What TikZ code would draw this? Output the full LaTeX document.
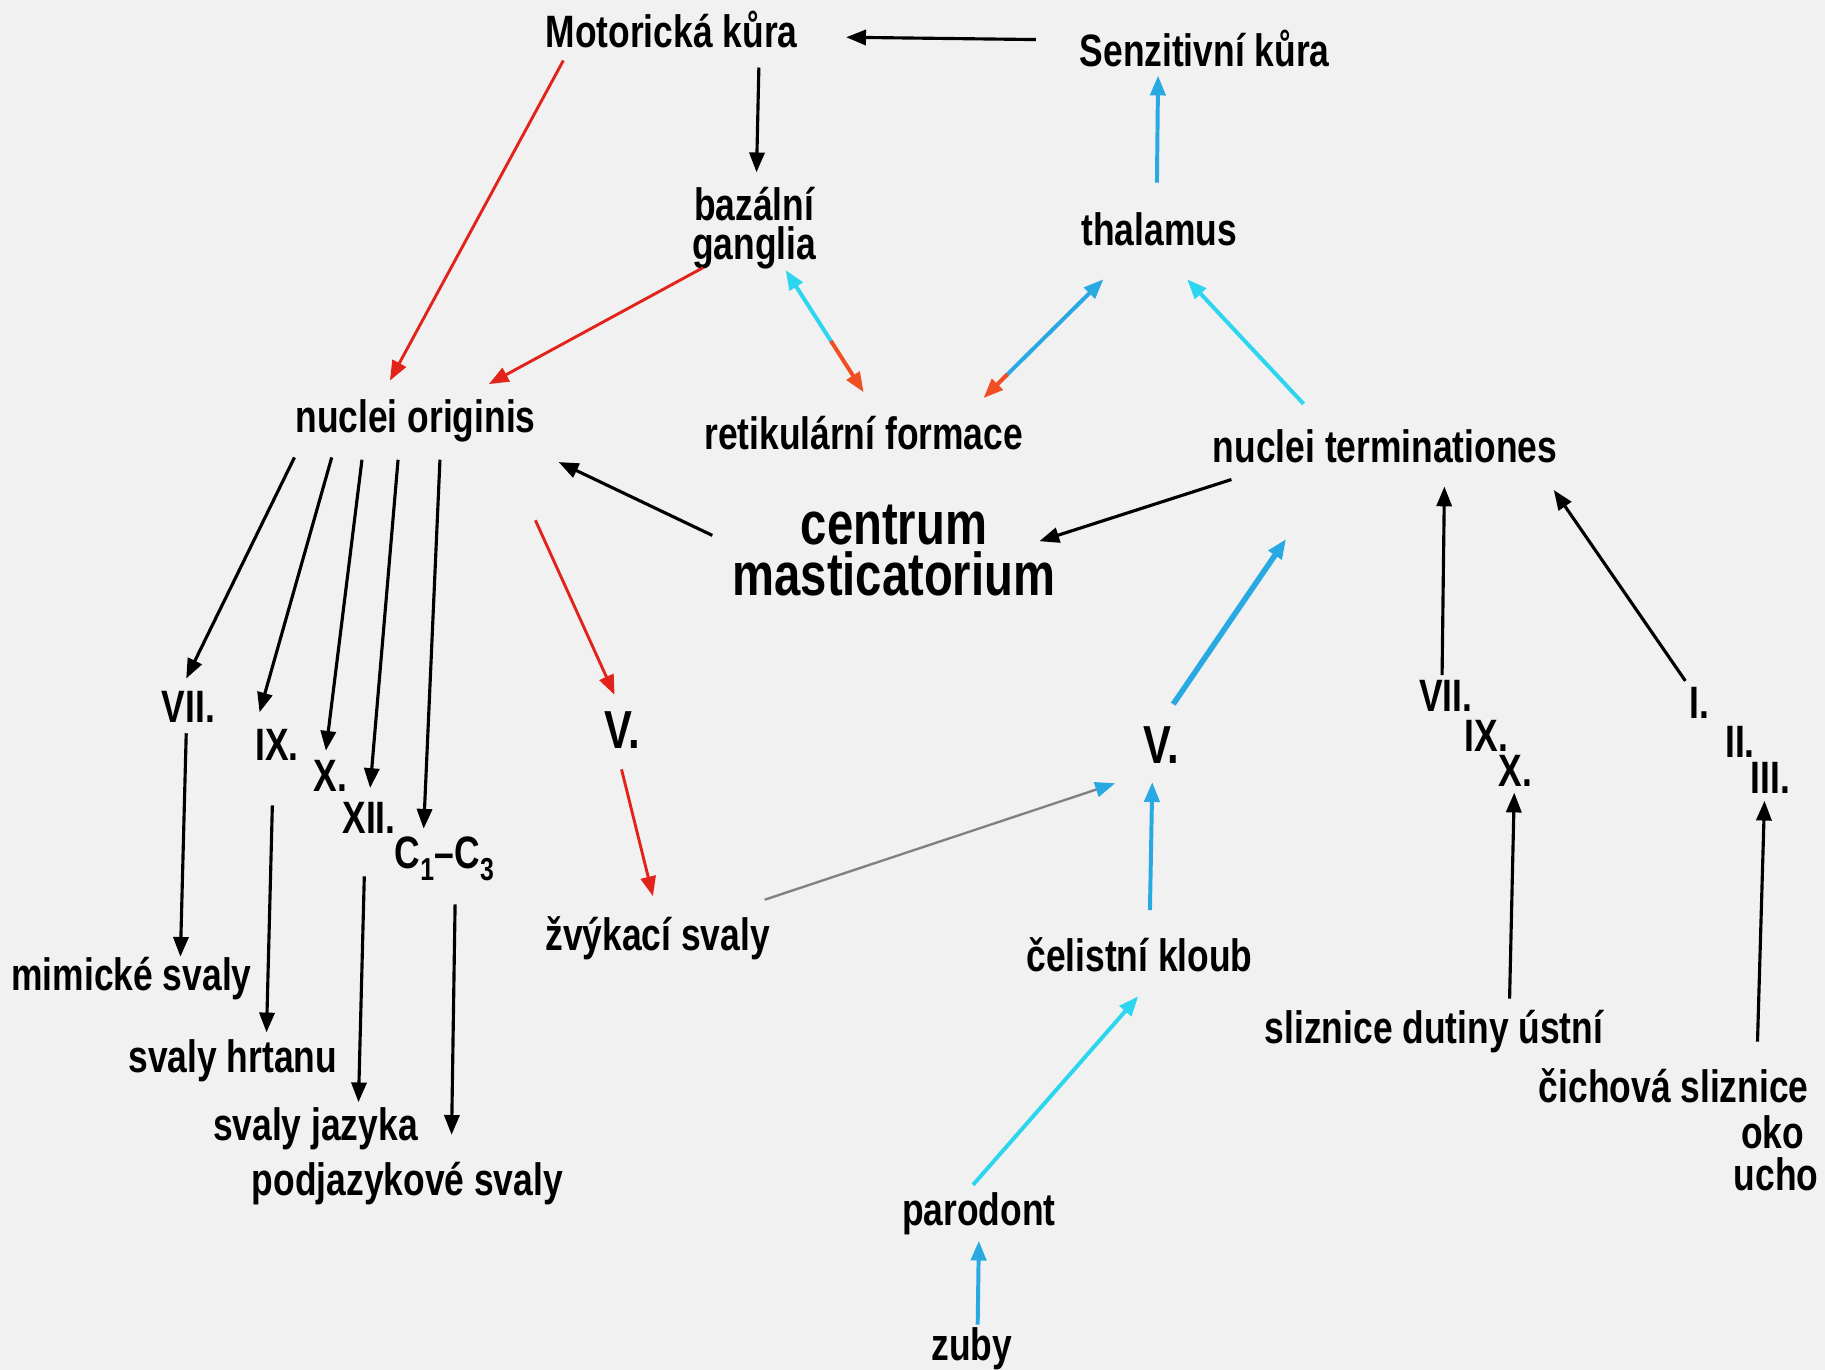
\documentclass[tikz,border=0pt]{standalone}
\usepackage{fontspec}
\newfontfamily\lbl[FakeStretch=0.78]{Liberation Sans}
\usetikzlibrary{arrows.meta, calc}
\definecolor{redln}{HTML}{E2231A}
\definecolor{blueln}{HTML}{29A9E1}
\definecolor{cyanln}{HTML}{2BD6EE}
\definecolor{orangetip}{HTML}{F04E23}
\definecolor{paper}{HTML}{F1F1F1}

\begin{document}
\begin{tikzpicture}[x=1pt,y=-1pt,
    txt/.style={inner sep=0pt,align=center,font=\lbl\bfseries\fontsize{39}{34}\selectfont},
    big/.style={txt,font=\lbl\bfseries\fontsize{52}{44}\selectfont},
    num/.style={txt,font=\lbl\bfseries\fontsize{46}{46}\selectfont},
    tip/.style={-{Triangle[length=17pt,width=13pt]}},
    blk/.style={tip,line width=2.7pt,black},
    rd/.style={tip,line width=2.5pt,redln},
    bl/.style={tip,line width=3.4pt,blueln},
    cy/.style={tip,line width=3.4pt,cyanln}]
    \fill[paper] (0,0) rectangle (1568,1177);
    \useasboundingbox (0,0) rectangle (1568,1177);
    % motor side
    \node[txt] (mk) at (577,25) {Motorická kůra};
    \node[txt] (bg) at (648,196) {bazální\\ganglia};
    \node[txt] (no) at (357,362) {nuclei originis};
    \node[txt] (rf) at (742,372) {retikulární formace};
    \node[big] (cm) at (768,473) {centrum\\masticatorium};
    \node[txt] (vii) at (162,607) {VII.};
    \node[txt] (ix) at (238,640) {IX.};
    \node[txt] (xl) at (284,667) {X.};
    \node[txt] (xii) at (317,703) {XII.};
    \node[txt] (c13) at (382,738) {C\textsubscript{1}–C\textsubscript{3}};
    \node[num] (vm) at (535,627) {V.};
    \node[txt] (ms) at (113,841) {mimické svaly};
    \node[txt] (sh) at (200,911) {svaly hrtanu};
    \node[txt] (sj) at (271,970) {svaly jazyka};
    \node[txt] (ps) at (350,1017) {podjazykové svaly};
    \node[txt] (zs) at (565,806) {žvýkací svaly};
    % sensory side
    \node[txt] (sk) at (1035,42) {Senzitivní kůra};
    \node[txt] (th) at (996,197) {thalamus};
    \node[txt] (nt) at (1190,383) {nuclei terminationes};
    \node[num] (vs) at (998,640) {V.};
    \node[txt] (ck) at (979,820) {čelistní kloub};
    \node[txt] (pd) at (841,1043) {parodont};
    \node[txt] (zb) at (835,1159) {zuby};
    \node[txt] (viir) at (1242,598) {VII.};
    \node[txt] (ixr) at (1277,632) {IX.};
    \node[txt] (xr) at (1302,662) {X.};
    \node[txt] (ir) at (1460,604) {I.};
    \node[txt] (iir) at (1495,637) {II.};
    \node[txt] (iiir) at (1521,668) {III.};
    \node[txt] (sdu) at (1232,886) {sliznice dutiny ústní};
    \node[txt] (cs) at (1438,933) {čichová sliznice};
    \node[txt] (oko) at (1523,973) {oko};
    \node[txt] (ucho) at (1526,1009) {ucho};

    \draw[blk] ([shift={(-145,-8)}]sk.center) -- ([shift={(150,7)}]mk.center);
    \draw[blk] ([shift={(75,33)}]mk.center) -- ([shift={(2,-48)}]bg.center);
    \draw[blk] ([shift={(-156,-13)}]cm.center) -- ([shift={(123,35)}]no.center);
    \draw[blk] ([shift={(-132,29)}]nt.center) -- ([shift={(125,-8)}]cm.center);
    \draw[blk] ([shift={(-104,31)}]no.center) -- ([shift={(-2,-24)}]vii.center);
    \draw[blk] ([shift={(-72,31)}]no.center) -- ([shift={(-15,-28)}]ix.center);
    \draw[blk] ([shift={(-46,33)}]no.center) -- ([shift={(-4,-22)}]xl.center);
    \draw[blk] ([shift={(-15,33)}]no.center) -- ([shift={(1,-26)}]xii.center);
    \draw[blk] ([shift={(21,33)}]no.center) -- ([shift={(-18,-26)}]c13.center);
    \draw[blk] ([shift={(-2,23)}]vii.center) -- ([shift={(42,-19)}]ms.center);
    \draw[blk] ([shift={(-4,52)}]ix.center) -- ([shift={(29,-24)}]sh.center);
    \draw[blk] ([shift={(-4,50)}]xii.center) -- ([shift={(37,-23)}]sj.center);
    \draw[blk] ([shift={(9,39)}]c13.center) -- ([shift={(38,-42)}]ps.center);
    \draw[blk] ([shift={(-3,-18)}]viir.center) -- ([shift={(51,35)}]nt.center);
    \draw[blk] ([shift={(-12,-19)}]ir.center) -- ([shift={(145,38)}]nt.center);
    \draw[blk] ([shift={(65,-28)}]sdu.center) -- ([shift={(-1,19)}]xr.center);
    \draw[blk] ([shift={(72,-38)}]cs.center) -- ([shift={(-5,20)}]iiir.center);

    \draw[rd] ([shift={(-93,27)}]mk.center) -- ([shift={(-22,-35)}]no.center);
    \draw[rd] ([shift={(-44,34)}]bg.center) -- ([shift={(63,-32)}]no.center);
    \draw[rd] ([shift={(103,85)}]no.center) -- ([shift={(-7,-30)}]vm.center);
    \draw[rd] ([shift={(-1,34)}]vm.center) -- ([shift={(-4,-36)}]zs.center);

    \draw[bl] ([shift={(-2,-40)}]th.center) -- ([shift={(-40,23)}]sk.center);
    \draw[cy] ([shift={(-70,-36)}]nt.center) -- ([shift={(24,43)}]th.center);
    \draw[bl,line width=4.8pt] ([shift={(10,-35)}]vs.center) -- ([shift={(-85,80)}]nt.center);
    \draw[bl] ([shift={(9,-38)}]ck.center) -- ([shift={(-8,32)}]vs.center);
    \draw[cy] ([shift={(-5,-25)}]pd.center) -- ([shift={(-1,36)}]ck.center);
    \draw[bl] ([shift={(5,-21)}]zb.center) -- ([shift={(0,23)}]pd.center);
    \draw[line width=2pt,gray,-{Triangle[length=17pt,width=13pt,color=blueln]}]
        ([shift={(92,-33)}]zs.center) -- ([shift={(-40,33)}]vs.center);

    % two-coloured double arrows
    \path ([shift={(-48,43)}]th.center) coordinate (t1) -- ([shift={(103,-30)}]rf.center) coordinate (t2);
    \draw[line width=3.4pt,blueln,{Triangle[length=17pt,width=13pt]}-] (t1) -- ($(t1)!.82!(t2)$);
    \draw[line width=3.4pt,orangetip,tip] ($(t1)!.8!(t2)$) -- (t2);
    \path ([shift={(27,36)}]bg.center) coordinate (g1) -- ([shift={(0,-35)}]rf.center) coordinate (g2);
    \draw[line width=3.4pt,cyanln,{Triangle[length=17pt,width=13pt]}-] (g1) -- ($(g1)!.6!(g2)$);
    \draw[line width=3.4pt,orangetip,tip] ($(g1)!.58!(g2)$) -- (g2);
\end{tikzpicture}
\end{document}
